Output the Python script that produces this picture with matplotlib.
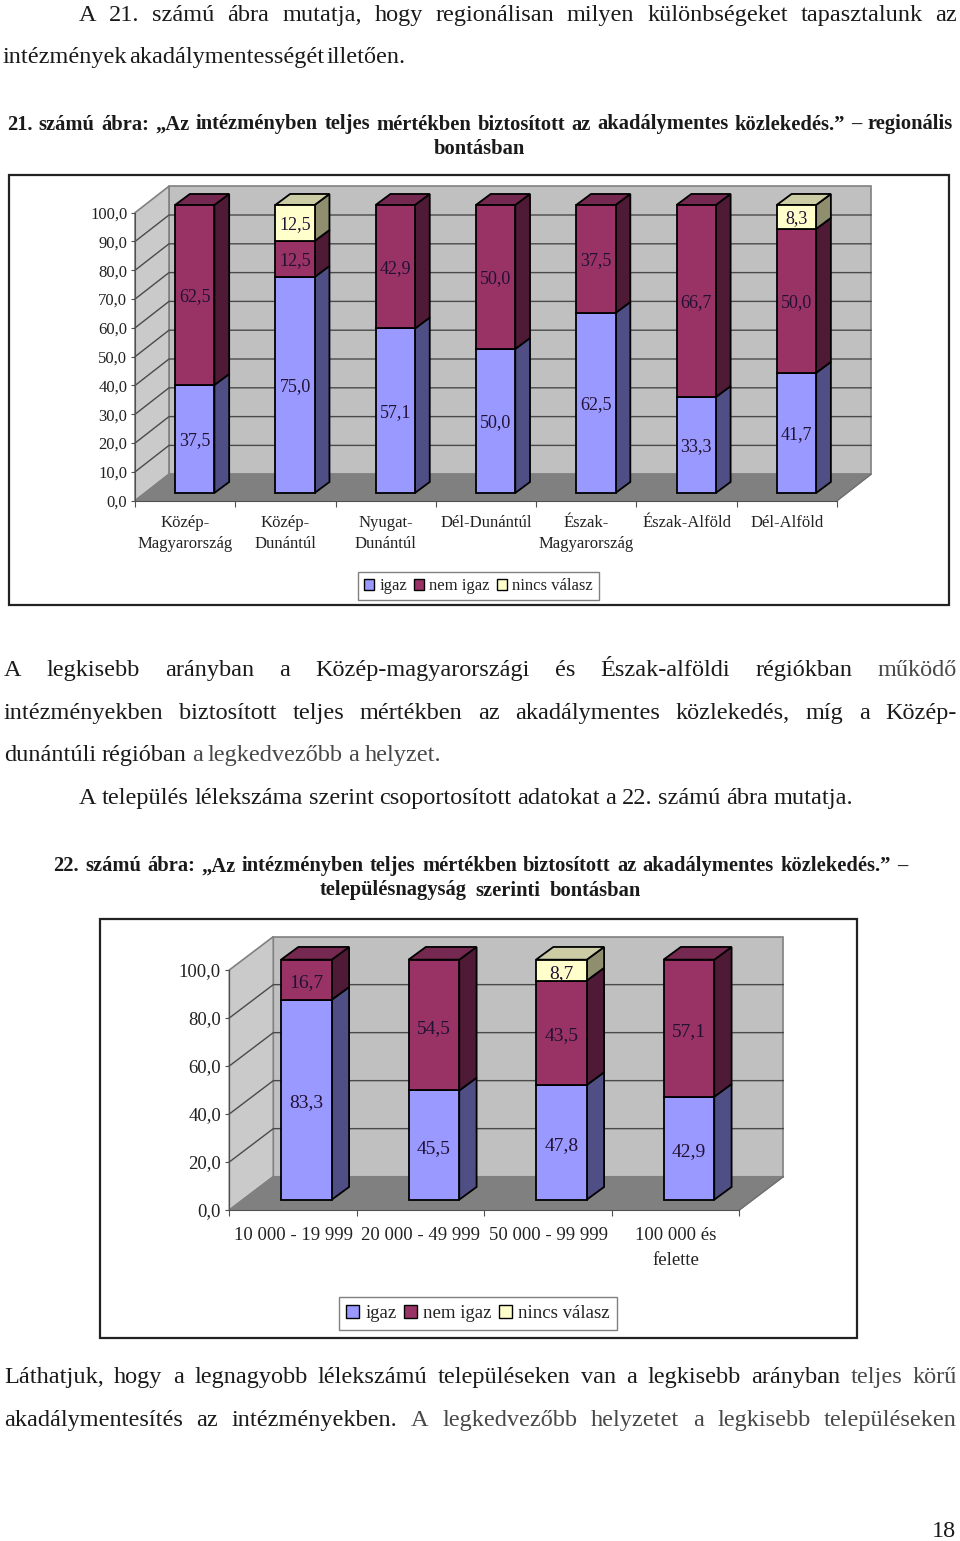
import numpy as np
import matplotlib
matplotlib.use("Agg")
import matplotlib.pyplot as plt
from matplotlib.patches import Polygon, Patch, Rectangle

plt.rcParams['font.family'] = ['Liberation Serif', 'DejaVu Serif']

W, H = 960, 1541

# chart 21 data
regions = ["Közép-\nMagyarország", "Közép-\nDunántúl", "Nyugat-\nDunántúl", "Dél-Dunántúl",
           "Észak-\nMagyarország", "Észak-Alföld", "Dél-Alföld"]
reg_igaz = [37.5, 75.0, 57.1, 50.0, 62.5, 33.3, 41.7]
reg_nem = [62.5, 12.5, 42.9, 50.0, 37.5, 66.7, 50.0]
reg_nincs = [0, 12.5, 0, 0, 0, 0, 8.3]
reg_ticks = [0, 10, 20, 30, 40, 50, 60, 70, 80, 90, 100]

# chart 22 data
sizes = ["10 000 - 19 999", "20 000 - 49 999", "50 000 - 99 999", "100 000 és\nfelette"]
size_igaz = [83.3, 45.5, 47.8, 42.9]
size_nem = [16.7, 54.5, 43.5, 57.1]
size_nincs = [0, 0, 8.7, 0]
size_ticks = [0, 20, 40, 60, 80, 100]

series_names = ["igaz", "nem igaz", "nincs válasz"]
front_cols = ["#9999FF", "#993366", "#FFFFCC"]
side_cols = ["#4F4F85", "#4F1A35", "#8F8F70"]
top_cols = ["#7070BB", "#752850", "#CCCCA5"]

# text, left, right, y, number of faded words at the end
body_lines = [
    ("A 21. számú ábra mutatja, hogy regionálisan milyen különbségeket tapasztalunk az", 79, 957, 13, 0),
    ("intézmények akadálymentességét illetően.", 3, 406, 55, 0),
    ("A legkisebb arányban a Közép-magyarországi és Észak-alföldi régiókban működő", 4, 957, 668, 1),
    ("intézményekben biztosított teljes mértékben az akadálymentes közlekedés, míg a Közép-", 4, 957, 711, 0),
    ("dunántúli régióban a legkedvezőbb a helyzet.", 4, 441, 753, 4),
    ("A település lélekszáma szerint csoportosított adatokat a 22. számú ábra mutatja.", 79, 853, 796, 0),
    ("Láthatjuk, hogy a legnagyobb lélekszámú településeken van a legkisebb arányban teljes körű", 4, 957, 1375, 2),
    ("akadálymentesítés az intézményekben. A legkedvezőbb helyzetet a legkisebb településeken", 4, 957, 1418, 6),
]
caption_lines = [
    ("21. számú ábra: „Az intézményben teljes mértékben biztosított az akadálymentes közlekedés.” – regionális", 7, 953, 122),
    ("bontásban", 434, 526, 146),
    ("22. számú ábra: „Az intézményben teljes mértékben biztosított az akadálymentes közlekedés.” –", 53, 907, 864),
    ("településnagyság szerinti bontásban", 320, 641, 888),
]


def spread_line(fig, text, x0, x1, y, size, weight="normal", faded=0):
    # place word by word so the line fills x0..x1 like justified text
    words = text.split()
    renderer = fig.canvas.get_renderer()
    items = []
    total = 0
    for i, w in enumerate(words):
        col = "#484848" if i >= len(words) - faded else "#1a1a1a"
        t = fig.text(x0 / W, 1 - y / H, w, fontsize=size, fontweight=weight, color=col, va="center_baseline", ha="left")
        width = t.get_window_extent(renderer).width
        items.append((t, width))
        total += width
    gap = (x1 - x0 - total) / max(len(words) - 1, 1)
    x = x0
    for t, width in items:
        t.set_x(x / W)
        x += width + gap


def bar_chart(fig, box, frame, legend_box, cats, series, ticks, depth, bar_depth, bar_w, fs, label_fs, label_drop, pad_y, pad_x, lsp, leg_kw):
    left, right, top, bottom = box
    ax = fig.add_axes([left / W, 1 - bottom / H, (right - left) / W, (bottom - top) / H])
    n = len(cats)
    ax.set_xlim(0, n)
    ax.set_ylim(0, 100)
    ax.patch.set_visible(False)
    dx, dy = depth
    bx, by = bar_depth
    ox, oy = (dx - bx) / 2, (dy - by) / 2

    # walls and floor
    ax.add_patch(Polygon([(dx, dy), (n + dx, dy), (n + dx, 100 + dy), (dx, 100 + dy)], fc="#C0C0C0", ec="#808080", lw=1.2, clip_on=False, zorder=1))
    ax.add_patch(Polygon([(0, 0), (dx, dy), (dx, 100 + dy), (0, 100)], fc="#CACACA", ec="#808080", lw=1.2, clip_on=False, zorder=1))
    ax.add_patch(Polygon([(0, 0), (n, 0), (n + dx, dy), (dx, dy)], fc="#808080", ec="#808080", lw=1, clip_on=False, zorder=1))
    for v in ticks[1:-1]:
        ax.plot([0, dx, n + dx], [v, v + dy, v + dy], color="#4a4a4a", lw=1, clip_on=False, zorder=1.5)
    ax.plot([n, n + dx], [0, dy], color="#707070", lw=1, clip_on=False, zorder=1.5)

    # stacked bars, left to right
    for i in range(n):
        x0 = i + 0.5 - bar_w / 2 + ox
        x1 = x0 + bar_w
        base = oy
        z = 3 + i
        for s, vals in enumerate(series):
            v = vals[i]
            if v == 0:
                continue
            t = base + v
            ax.add_patch(Polygon([(x1, base), (x1 + bx, base + by), (x1 + bx, t + by), (x1, t)], fc=side_cols[s], ec="black", lw=1.3, clip_on=False, zorder=z))
            ax.add_patch(Polygon([(x0, base), (x1, base), (x1, t), (x0, t)], fc=front_cols[s], ec="black", lw=1.3, clip_on=False, zorder=z + 0.2))
            ax.annotate(f"{v:.1f}".replace(".", ","), ((x0 + x1) / 2, base + v / 2), xytext=(0, -label_drop), textcoords="offset points",
                        ha="center", va="center", fontsize=label_fs, color="#221133", zorder=z + 0.4)
            base = t
            top_col = top_cols[s]
        ax.add_patch(Polygon([(x0, base), (x1, base), (x1 + bx, base + by), (x0 + bx, base + by)], fc=top_col, ec="black", lw=1.3, clip_on=False, zorder=z + 0.1))

    # axes
    for name in ("top", "right"):
        ax.spines[name].set_visible(False)
    for name in ("left", "bottom"):
        ax.spines[name].set_color("#505050")
        ax.spines[name].set_zorder(2)
    ax.set_yticks(ticks, [f"{v:.1f}".replace(".", ",") for v in ticks])
    ax.tick_params(axis="y", length=3, color="#505050", pad=pad_y, labelsize=fs, labelcolor="#222222")
    for lab in ax.get_yticklabels():
        lab.set_va("center_baseline")
    ax.set_xticks(np.arange(n + 1), [""] * (n + 1))
    ax.set_xticks(np.arange(n) + 0.5, cats, minor=True)
    ax.tick_params(axis="x", which="major", length=4, color="#505050")
    ax.tick_params(axis="x", which="minor", length=0, pad=pad_x, labelsize=fs, labelcolor="#222222")
    for lab in ax.get_xticklabels(minor=True):
        lab.set_linespacing(lsp)

    # frame round the chart
    fx0, fx1, fy0, fy1 = frame
    fig.add_artist(Rectangle((fx0 / W, 1 - fy1 / H), (fx1 - fx0) / W, (fy1 - fy0) / H, fc="none", ec="#222222", lw=1.6, transform=fig.transFigure))

    # legend
    lx0, lx1, ly0, ly1 = legend_box
    handles = [Patch(fc=front_cols[s], ec="black", lw=1, label=series_names[s]) for s in range(3)]
    leg = ax.legend(handles=handles, ncol=3, loc="center", bbox_to_anchor=((lx0 + lx1) / 2 / W, 1 - (ly0 + ly1) / 2 / H), bbox_transform=fig.transFigure,
                    fontsize=fs, frameon=True, fancybox=False, edgecolor="#808080", framealpha=1, borderaxespad=0, **leg_kw)
    leg.get_frame().set_linewidth(1)
    for txt in leg.get_texts():
        txt.set_color("#222222")
    return ax


fig = plt.figure(figsize=(W / 100, H / 100), dpi=100)
fig.canvas.draw()

for text, x0, x1, y, faded in body_lines:
    spread_line(fig, text, x0, x1, y, 17.5, faded=faded)
for text, x0, x1, y in caption_lines:
    spread_line(fig, text, x0, x1, y, 14.8, weight="bold")
fig.text(956 / W, 1 - 1529 / H, "18", fontsize=17.5, ha="right", va="center_baseline", color="#1a1a1a")

bar_chart(fig, (135, 837, 212.7, 500.7), (8.5, 949, 175, 604.7), (357, 600, 572, 600),
          regions, [reg_igaz, reg_nem, reg_nincs], reg_ticks,
          (0.339, 9.2), (0.147, 3.8), 0.392, 12, 13, 1.3, 2.5, 10, 1.44,
          dict(handlelength=0.62, handleheight=0.62, handletextpad=0.3, columnspacing=0.42, borderpad=0.36))
bar_chart(fig, (229.3, 739.3, 970, 1210), (100, 857, 919, 1337.7), (336, 620, 1295, 1332),
          sizes, [size_igaz, size_nem, size_nincs], size_ticks,
          (0.345, 13.9), (0.136, 5.3), 0.398, 13.5, 14, 2.4, 3, 12, 1.65,
          dict(handlelength=0.69, handleheight=0.69, handletextpad=0.32, columnspacing=0.4, borderpad=0.4))

fig.savefig("out.png", dpi=100)
